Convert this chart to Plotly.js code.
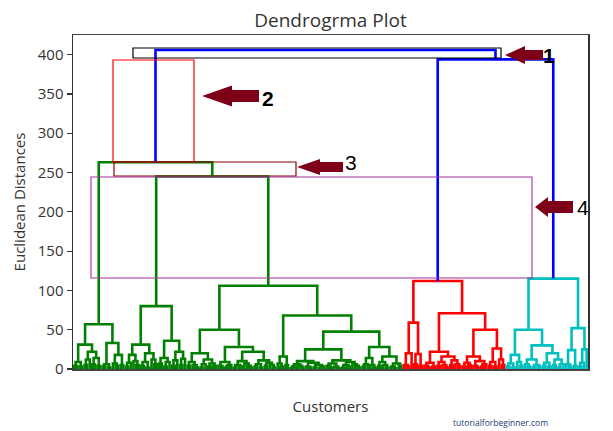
<!DOCTYPE html>
<html>
<head>
<meta charset="utf-8">
<script src="https://cdn.plot.ly/plotly-3.0.1.min.js"></script>
<style>html,body{margin:0;padding:0;background:#fff;}#chart{width:613px;height:431px;}</style>
</head>
<body>
<div id="chart"></div>
<script>
// ---- Dendrogram data: nested merges [height, left, right]; a leaf is 0 ----
const greenA = [57,
  [31, [9,[4,0,0],[3,0,0]], [22,[12,[5,0,0],0],[14,[6,0,0],[4,0,0]]]],
  [33, [6,[3,0,0],[2,0,0]], [18,[7,0,[4,0,0]],[5,0,0]]]];
const greenB = [80,
  [31, [18,[8,[3,0,0],0],[10,0,[5,0,0]]], [20,[9,[4,0,0],[2,0,0]],[12,0,[6,0,0]]]],
  [36, [14,[7,0,0],[9,[3,0,0],0]], [22,[11,[4,0,0],0],[13,[5,0,0],0]]]];
const greenCLeft = [50,
  [20, [9,[4,0,0],[5,0,[2,0,0]]], [12,[6,[2,0,0],0],[7,[3,0,0],[4,0,0]]]],
  [28, [9,[4,0,[2,0,0]],[5,[3,0,0],0]],
       [22, [10,[5,[2,0,0],[3,0,0]],[7,0,[4,0,[2,0,0]]]],
            [11,[6,[3,0,0],[2,0,0]],[8,[4,0,0],[5,0,[2,0,0]]]]]]];
const greenCRight = [68,
  [16,[7,0,[3,0,0]],[5,0,0]],
  [47.5,
    [25, [10,[6,[3,[1,0,0],0],[4,0,[2,0,0]]],[8,[3,0,[2,0,0]],[5,[2,0,0],[3,[1,0,0],0]]]],
         [11,[7,[4,0,[2,0,0]],[3,0,[1,0,0]]],[9,[5,[2,0,0],[3,0,0]],[6,0,[4,0,[2,0,0]]]]]],
    [28, [14,[6,[3,0,0],0],[5,0,[2,0,0]]],
         [16,[9,[4,0,0],[5,0,[2,0,0]]],[7,[3,0,[1,0,0]],[4,0,0]]]]]];
const greenTree = [263, greenA, [245, greenB, [106, greenCLeft, greenCRight]]];
const redTree = [112,
  [59, [20,[5,0,[3,0,0]],0], [19,[6,0,0],[4,0,0]]],
  [71, [22,[8,[4,0,[2,0,0]],[3,0,0]],[16,[9,[4,0,0],[5,0,[2,0,0]]],[11,[5,0,0],[6,0,[3,0,0]]]]],
       [50,[16,[8,[3,0,0],[5,0,0]],[10,[4,0,[2,0,0]],[6,[3,0,0],0]]],[26,[9,[4,0,0],[3,0,0]],[12,0,[5,0,0]]]]]];
const cyanTree = [115,
  [50, [18,[7,[3,0,0],[2,0,0]],[9,0,[4,0,0]]],
       [30,[12,[6,0,[3,0,0]],[5,[2,0,0],[3,0,0]]],[20,[8,[4,0,0],[3,0,0]],[12,[5,0,0],[6,[2,0,0],0]]]]],
  [52, [24,[6,0,[3,0,0]],[4,0,0]], [25,[8,[3,0,0],0],0]]];
const upperHeights = [394, 406];   // red+cyan merge, root merge
const clusterColors = ['#008000', '#ff0000', '#00bfbf'];
const aboveColor = '#0000ff';
const yTicks = [0, 50, 100, 150, 200, 250, 300, 350, 400];

// ---- build link segments ----
let leafIdx = 0;
const segs = {};
function add(color, xs, ys) {
  if (!segs[color]) segs[color] = {x: [], y: []};
  segs[color].x.push(...xs, null);
  segs[color].y.push(...ys, null);
}
function walk(node, color) {
  if (node === 0) { const x = 10 * leafIdx + 5; leafIdx++; return {x: x, h: 0}; }
  const L = walk(node[1], color), R = walk(node[2], color);
  add(color, [L.x, L.x, R.x, R.x], [L.h, node[0], node[0], R.h]);
  return {x: (L.x + R.x) / 2, h: node[0]};
}
const G = walk(greenTree, clusterColors[0]);
const Rd = walk(redTree, clusterColors[1]);
const Cy = walk(cyanTree, clusterColors[2]);
add(aboveColor, [Rd.x, Rd.x, Cy.x, Cy.x], [Rd.h, upperHeights[0], upperHeights[0], Cy.h]);
const rcX = (Rd.x + Cy.x) / 2;
add(aboveColor, [G.x, G.x, rcX, rcX], [G.h, upperHeights[1], upperHeights[1], upperHeights[0]]);

const traces = Object.keys(segs).map(c => ({
  type: 'scatter', mode: 'lines', x: segs[c].x, y: segs[c].y,
  line: {color: c, width: 2.6}, hoverinfo: 'skip', showlegend: false
}));

// ---- overlay annotations (pixel positions -> paper) ----
const L0 = 73, R0 = 588, T0 = 35, B0 = 369;
const px = v => (v - L0) / (R0 - L0);
const py = v => (B0 - v) / (B0 - T0);
function rect(x0, y0, x1, y1, color, w) {
  return {type: 'rect', xref: 'paper', yref: 'paper', x0: px(x0), x1: px(x1), y0: py(y0), y1: py(y1),
          line: {color: color, width: w}, fillcolor: 'rgba(0,0,0,0)'};
}
function arrow(tipX, tipY, baseX, endX, hh, sh) {
  const pts = [[tipX, tipY], [baseX, tipY - hh], [baseX, tipY - sh], [endX, tipY - sh],
               [endX, tipY + sh], [baseX, tipY + sh], [baseX, tipY + hh]];
  const d = 'M ' + pts.map(p => px(p[0]) + ',' + py(p[1])).join(' L ') + ' Z';
  return {type: 'path', xref: 'paper', yref: 'paper', path: d, fillcolor: '#7d0018', line: {width: 0}};
}
const shapes = [
  rect(133, 48, 501, 58, '#000000', 1.2),
  rect(113, 60, 194, 162, '#ff0000', 1.2),
  rect(114, 162, 296, 176, '#8b0000', 1.2),
  rect(91, 177, 532, 278, '#a030a0', 1.1),
  arrow(505, 55, 525, 543, 9, 5),
  arrow(202, 96, 232, 259, 10.5, 6),
  arrow(297, 167, 320, 343, 8, 5),
  arrow(535, 207, 548, 573, 10, 6)
];
function label(t, x, y, bold) {
  return {text: bold ? '<b>' + t + '</b>' : t, xref: 'paper', yref: 'paper', x: px(x), y: py(y),
          xanchor: 'center', yanchor: 'middle', showarrow: false,
          font: {family: 'Liberation Sans, Arial, sans-serif', size: 21, color: '#000'}};
}
const annotations = [
  label('1', 549, 55, true), label('2', 268, 99, true), label('3', 351, 162, false), label('4', 583, 207, false),
  {text: 'tutorialforbeginner.com', xref: 'paper', yref: 'paper', x: px(500), y: py(422),
   xanchor: 'center', yanchor: 'middle', showarrow: false,
   font: {family: 'Open Sans, sans-serif', size: 8.5, color: '#1f3b6e'}}
];

const layout = {
  width: 613, height: 431,
  margin: {l: 73, r: 25, t: 35, b: 62, pad: 0},
  paper_bgcolor: '#fff', plot_bgcolor: '#fff',
  font: {family: 'Open Sans, sans-serif', color: '#333'},
  title: {text: 'Dendrogrma Plot', font: {size: 19, color: '#333'}, x: 0.5, xref: 'paper',
          y: 1 - 20 / 431, yref: 'container', yanchor: 'middle'},
  xaxis: {range: [0, 2000], showticklabels: false, ticks: '', showgrid: false, zeroline: false,
          showline: true, mirror: true, linecolor: '#444', linewidth: 1.5,
          title: {text: 'Customers', font: {size: 15, color: '#333'}, standoff: 32}},
  yaxis: {range: [0, 425], tickvals: yTicks, ticks: 'outside', ticklen: 5, tickwidth: 1.2, tickcolor: '#333',
          tickfont: {size: 15, color: '#333'}, showgrid: false, zeroline: false,
          showline: true, mirror: true, linecolor: '#333', linewidth: 1.5,
          title: {text: 'Euclidean Distances', font: {size: 15, color: '#333'}, standoff: 8}},
  shapes: shapes, annotations: annotations
};
Plotly.newPlot('chart', traces, layout, {displayModeBar: false, staticPlot: true});
</script>
</body>
</html>
